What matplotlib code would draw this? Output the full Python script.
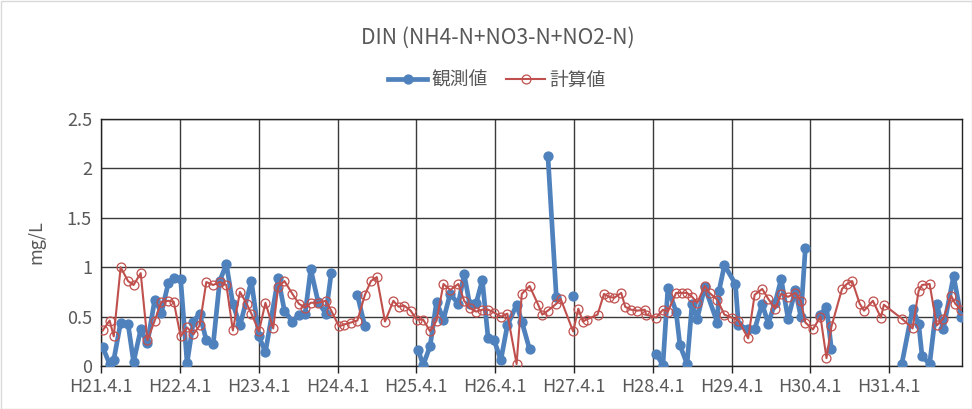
import matplotlib
matplotlib.use('Agg')
import matplotlib.pyplot as plt
import matplotlib.ticker as mticker
import numpy as np
import pandas as pd

plt.rcParams['font.family'] = ['Noto Sans CJK JP', 'DejaVu Sans']

title = 'DIN (NH4-N+NO3-N+NO2-N)'
ylabel = 'mg/L'
obs_label = '観測値'
calc_label = '計算値'

tick_dates = ['2009-04-01', '2010-04-01', '2011-04-01', '2012-04-01', '2013-04-01',
              '2014-04-01', '2015-04-01', '2016-04-01', '2017-04-01', '2018-04-01',
              '2019-04-01']
tick_labels = ['H21.4.1', 'H22.4.1', 'H23.4.1', 'H24.4.1', 'H25.4.1', 'H26.4.1',
               'H27.4.1', 'H28.4.1', 'H29.4.1', 'H30.4.1', 'H31.4.1']
y_ticks = [0, 0.5, 1, 1.5, 2, 2.5]

calc_dates = [
    '2009-04-09', '2009-05-11', '2009-05-30', '2009-07-01', '2009-08-04', '2009-08-30',
    '2009-10-02', '2009-11-02', '2009-12-06', '2010-01-06', '2010-02-07', '2010-03-04',
    '2010-04-05', '2010-05-05', '2010-06-03', '2010-07-02', '2010-08-02', '2010-09-03',
    '2010-10-03', '2010-11-03', '2010-12-03', '2011-01-05', '2011-02-05', '2011-02-27',
    '2011-04-03', '2011-05-03', '2011-06-08', '2011-07-01', '2011-07-30', '2011-09-05',
    '2011-10-05', '2011-11-03', '2011-11-29', '2012-01-02', '2012-02-07', '2012-03-03',
    '2012-04-08', '2012-05-01', '2012-06-02', '2012-07-02', '2012-08-06', '2012-09-03',
    '2012-09-30', '2012-11-07', '2012-12-16', '2013-01-09', '2013-02-05', '2013-03-06',
    '2013-04-03', '2013-05-03', '2013-06-04', '2013-07-04', '2013-08-05', '2013-09-05',
    '2013-10-13', '2013-11-09', '2013-12-04', '2014-01-04', '2014-02-01', '2014-02-28',
    '2014-03-28', '2014-04-28', '2014-05-28', '2014-07-10', '2014-08-03', '2014-09-08',
    '2014-10-18', '2014-11-06', '2014-12-02', '2015-01-10', '2015-01-30', '2015-03-29',
    '2015-04-22', '2015-05-13', '2015-05-30', '2015-07-20', '2015-08-19', '2015-09-12',
    '2015-10-05', '2015-11-07', '2015-11-25', '2015-12-22', '2016-01-20', '2016-02-24',
    '2016-03-01', '2016-04-17', '2016-05-18', '2016-06-10', '2016-07-18', '2016-08-13',
    '2016-09-07', '2016-09-30', '2016-10-24', '2016-11-28', '2016-12-20', '2017-01-25',
    '2017-02-27', '2017-04-02', '2017-05-03', '2017-06-17', '2017-07-17', '2017-08-21',
    '2017-09-18', '2017-10-20', '2017-11-17', '2017-12-19', '2018-01-22', '2018-02-16',
    '2018-03-09', '2018-04-13', '2018-05-18', '2018-06-15', '2018-07-08', '2018-08-26',
    '2018-09-17', '2018-10-12', '2018-11-16', '2018-12-06', '2019-01-16', '2019-02-22',
    '2019-03-08', '2019-05-30', '2019-07-19', '2019-08-16', '2019-09-01', '2019-10-06',
    '2019-11-08', '2019-12-08', '2020-01-14', '2020-02-02', '2020-02-29',
]
calc_values = [
    0.36, 0.46, 0.30, 1.00, 0.86, 0.82,
    0.94, 0.26, 0.46, 0.65, 0.66, 0.65,
    0.30, 0.39, 0.32, 0.41, 0.85, 0.82,
    0.85, 0.82, 0.36, 0.75, 0.63, 0.53,
    0.35, 0.64, 0.38, 0.80, 0.86, 0.73,
    0.63, 0.59, 0.64, 0.64, 0.66, 0.56,
    0.40, 0.42, 0.44, 0.46, 0.72, 0.86,
    0.90, 0.45, 0.66, 0.60, 0.61, 0.56,
    0.47, 0.47, 0.35, 0.46, 0.83, 0.77,
    0.83, 0.66, 0.59, 0.55, 0.57, 0.57,
    0.54, 0.50, 0.53, 0.02, 0.73, 0.81,
    0.62, 0.52, 0.56, 0.63, 0.68, 0.35,
    0.58, 0.45, 0.47, 0.52, 0.73, 0.70,
    0.69, 0.74, 0.60, 0.57, 0.56, 0.57,
    0.52, 0.49, 0.57, 0.55, 0.74, 0.74,
    0.74, 0.70, 0.64, 0.81, 0.74, 0.67,
    0.52, 0.49, 0.46, 0.28, 0.72, 0.78,
    0.68, 0.58, 0.73, 0.70, 0.74, 0.66,
    0.44, 0.37, 0.50, 0.08, 0.40, 0.78,
    0.83, 0.86, 0.63, 0.56, 0.66, 0.49,
    0.62, 0.48, 0.38, 0.76, 0.82, 0.83,
    0.41, 0.48, 0.71, 0.63, 0.57,
]

nan = np.nan
obs_dates = [
    '2009-04-09', '2009-05-11', '2009-05-30', '2009-07-01', '2009-08-04', '2009-08-30',
    '2009-10-02', '2009-11-02', '2009-12-06', '2010-01-06', '2010-02-07', '2010-03-04',
    '2010-04-05', '2010-05-05', '2010-06-03', '2010-07-02', '2010-08-02', '2010-09-03',
    '2010-10-03', '2010-11-03', '2010-12-03', '2011-01-05', '2011-02-27',
    '2011-04-03', '2011-05-03', '2011-07-01', '2011-07-30', '2011-09-05',
    '2011-10-05', '2011-11-03', '2011-11-29', '2012-01-02', '2012-02-07', '2012-03-03',
    '2012-05-01', '2012-07-02', '2012-08-06', '2012-12-01',
    '2013-04-10', '2013-05-03', '2013-06-04', '2013-07-04', '2013-08-05', '2013-09-05',
    '2013-10-13', '2013-11-09', '2013-12-04', '2014-01-04', '2014-02-01', '2014-02-28',
    '2014-03-28', '2014-04-28', '2014-05-28', '2014-07-10', '2014-08-03', '2014-09-08',
    '2014-11-01', '2014-12-02', '2015-01-10', '2015-02-20', '2015-03-29', '2015-10-01',
    '2016-04-17', '2016-05-18', '2016-06-10', '2016-07-18', '2016-08-05',
    '2016-09-07', '2016-09-30', '2016-10-24', '2016-11-28', '2017-01-25', '2017-02-02',
    '2017-02-27', '2017-04-19', '2017-05-03', '2017-06-17', '2017-07-17', '2017-08-21',
    '2017-09-18', '2017-10-20', '2017-11-17', '2017-12-19', '2018-01-22', '2018-02-16',
    '2018-03-09', '2018-04-15', '2018-05-18', '2018-06-15', '2018-07-08', '2019-01-01',
    '2019-05-30', '2019-07-19', '2019-08-16', '2019-09-01', '2019-10-06',
    '2019-11-08', '2019-12-08', '2020-01-25', '2020-02-29',
]
obs_values = [
    0.19, 0.02, 0.06, 0.44, 0.43, 0.04,
    0.37, 0.23, 0.67, 0.54, 0.84, 0.89,
    0.88, 0.03, 0.45, 0.53, 0.26, 0.22,
    0.86, 1.03, 0.63, 0.41, 0.86,
    0.30, 0.14, 0.89, 0.56, 0.45,
    0.52, 0.53, 0.98, 0.65, 0.53, 0.94,
    nan, 0.72, 0.40, nan,
    0.16, 0.01, 0.20, 0.65, 0.47, 0.73,
    0.63, 0.93, 0.63, 0.64, 0.87, 0.28,
    0.26, 0.06, 0.41, 0.62, 0.45, 0.17,
    nan, 2.13, 0.70, nan, 0.71, nan,
    0.12, 0.01, 0.79, 0.55, 0.21,
    0.02, 0.63, 0.48, 0.80, 0.44, 0.76,
    1.02, 0.83, 0.42, 0.37, 0.37, 0.63,
    0.43, 0.64, 0.88, 0.48, 0.77, 0.50,
    1.19, nan, 0.52, 0.60, 0.17, nan,
    0.02, 0.58, 0.43, 0.10, 0.02,
    0.63, 0.37, 0.91, 0.50,
]

W, H = 972, 409
fig = plt.figure(figsize=(W / 100, H / 100), dpi=100)
ax = fig.add_axes([101 / W, 1 - 366 / H, (962 - 101) / W, (366 - 119) / H])

blue = '#4F81BD'
red = '#C0504D'
grey_text = '#595959'

ax.plot(pd.to_datetime(obs_dates), obs_values, color=blue, lw=3.4, marker='o',
        ms=6.4, mfc=blue, mec=blue, label=obs_label, zorder=3)
ax.plot(pd.to_datetime(calc_dates), calc_values, color=red, lw=1.5, marker='o',
        ms=6.4, mfc='none', mec=red, mew=0.9, label=calc_label, zorder=4)

ax.set_xlim(pd.Timestamp('2009-04-01'), pd.Timestamp('2020-03-04'))
ax.set_ylim(0, 2.5)
ax.set_yticks(y_ticks)
ax.yaxis.set_major_formatter(mticker.FuncFormatter(lambda v, p: f'{v:g}'))
ax.set_xticks(pd.to_datetime(tick_dates))
ax.set_xticklabels(tick_labels)

ax.grid(True, color='#3a3a3a', lw=1.0)
ax.set_axisbelow(True)
for s in ax.spines.values():
    s.set_color('#222222')
    s.set_linewidth(1.0)

ax.tick_params(axis='x', length=5, width=1, color='#222222', colors=grey_text,
               labelsize=13, pad=4)
ax.tick_params(axis='y', length=0, colors=grey_text, labelsize=13, pad=6.5)
ax.set_ylabel(ylabel, color=grey_text, fontsize=13)
ax.yaxis.set_label_coords(-0.065, 0.5)

fig.text(0.512, 1 - 38 / H, title, ha='center', va='center', color=grey_text,
         fontsize=15.2)

leg = fig.legend(loc='center', bbox_to_anchor=(0.511, 1 - 80 / H), ncol=2,
                 frameon=False, fontsize=13.5, handlelength=2.1, columnspacing=1.0,
                 handletextpad=0.2)
for t in leg.get_texts():
    t.set_color(grey_text)

fig.patches.append(plt.Rectangle((0.5 / W, 0.5 / H), 1 - 1 / W, 1 - 1 / H,
                                 transform=fig.transFigure, fill=False,
                                 edgecolor='#d9d9d9', lw=1))

fig.savefig('out.png', dpi=100)
